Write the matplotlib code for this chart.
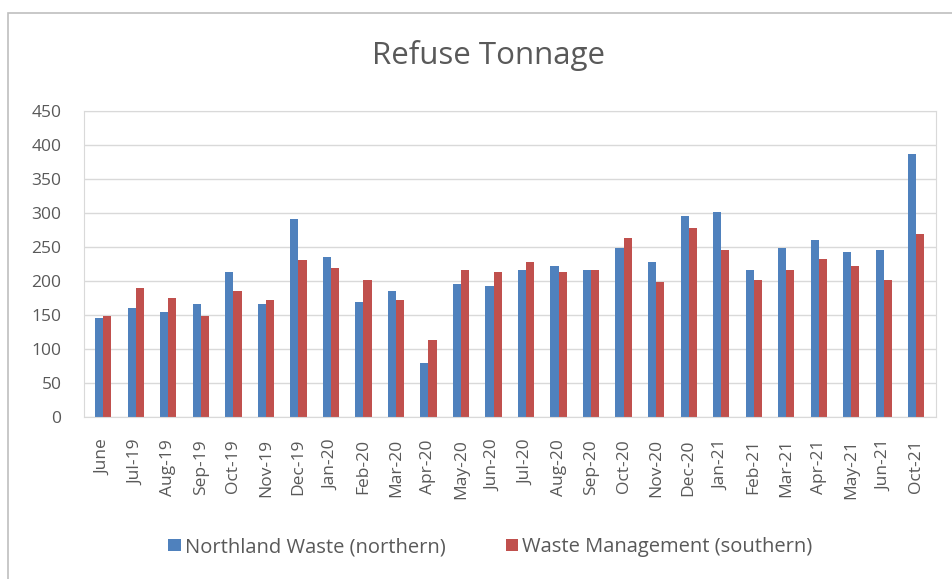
import matplotlib
matplotlib.use("Agg")
import matplotlib.pyplot as plt
import numpy as np
from matplotlib.patches import Rectangle

months = ["June", "Jul-19", "Aug-19", "Sep-19", "Oct-19", "Nov-19", "Dec-19",
          "Jan-20", "Feb-20", "Mar-20", "Apr-20", "May-20", "Jun-20", "Jul-20",
          "Aug-20", "Sep-20", "Oct-20", "Nov-20", "Dec-20", "Jan-21", "Feb-21",
          "Mar-21", "Apr-21", "May-21", "Jun-21", "Oct-21"]
northern = [145, 160, 154, 166, 213, 166, 292, 236, 169, 186, 80, 195, 192,
            216, 222, 216, 248, 228, 295, 301, 216, 248, 260, 242, 245, 387]
southern = [148, 189, 175, 148, 186, 172, 231, 219, 201, 172, 113, 216, 213,
            228, 213, 216, 263, 198, 278, 245, 201, 216, 233, 222, 201, 269]

plt.rcParams["font.family"] = ["Open Sans", "DejaVu Sans"]
grey = "#595959"

fig = plt.figure(figsize=(9.52, 5.79), dpi=100)
ax = fig.add_axes([0.088, 0.280, 0.895, 0.528])

x = np.arange(len(months))
w = 0.25
ax.bar(x - w / 2, northern, w, color="#4f81bd", label="Northland Waste (northern)")
ax.bar(x + w / 2, southern, w, color="#c0504d", label="Waste Management (southern)")

ax.set_xlim(-0.6, len(months) - 0.4)
ax.set_ylim(0, 450)
ax.set_yticks(range(0, 451, 50))
ax.yaxis.grid(True, color="#d9d9d9", lw=1)
ax.set_axisbelow(True)
for s in ax.spines.values():
    s.set_color("#d9d9d9")
ax.set_xticks(x)
ax.set_xticklabels(months, rotation=90, color=grey)
ax.tick_params(axis="both", length=0, labelsize=12.5, colors=grey)
ax.tick_params(axis="x", pad=16)
ax.tick_params(axis="y", pad=16)

fig.text(0.513, 0.905, "Refuse Tonnage", ha="center", va="center",
         fontsize=22.5, color=grey)
fig.legend(loc="center", bbox_to_anchor=(0.515, 0.055), ncol=2, frameon=False,
           fontsize=14.5, labelcolor=grey, handlelength=0.6, handleheight=0.6,
           handletextpad=0.2, columnspacing=3)

fig.patches.append(Rectangle((0.008, -0.05), 1.1, 1.028, transform=fig.transFigure,
                             fill=False, edgecolor="#bfbfbf", lw=1.2))

fig.savefig("out.png", dpi=100)
